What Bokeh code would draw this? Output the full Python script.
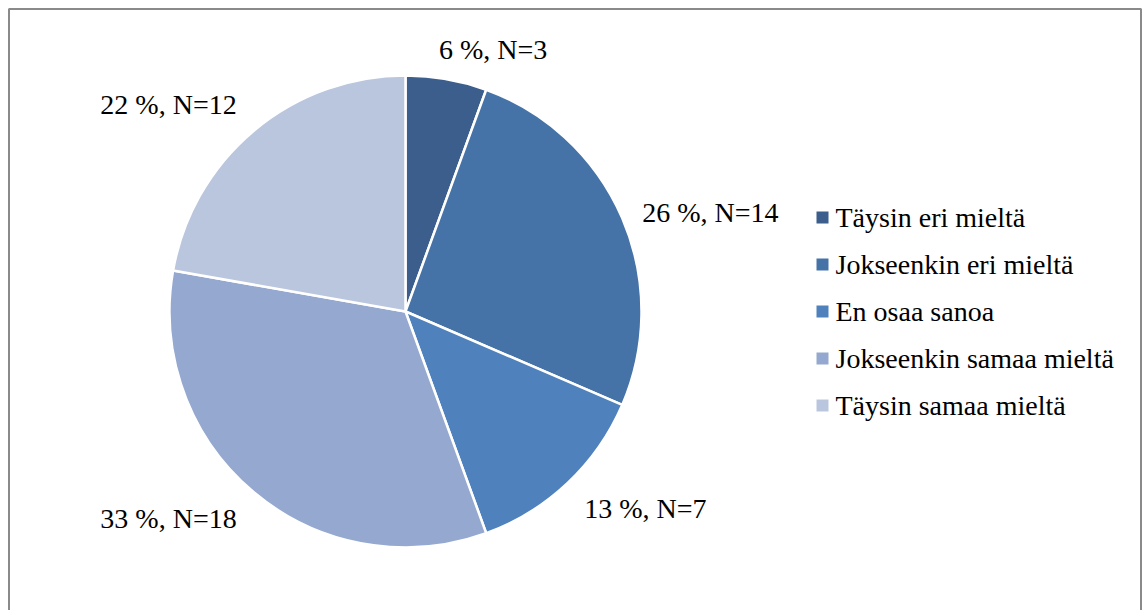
import math
from bokeh.plotting import figure
from bokeh.models import ColumnDataSource, Range1d
from bokeh.embed import file_html
from bokeh.resources import INLINE

categories = ["Täysin eri mieltä", "Jokseenkin eri mieltä", "En osaa sanoa",
              "Jokseenkin samaa mieltä", "Täysin samaa mieltä"]
counts = [3, 14, 7, 18, 12]
colors = ["#3B5E8C", "#4572A7", "#4F81BD", "#95A8CF", "#BAC6DE"]

W, H = 1142, 610
FONT = "Liberation Serif"
FS = "28px"

p = figure(width=W, height=H, output_backend="svg", toolbar_location=None,
           x_range=Range1d(0, W), y_range=Range1d(0, H), min_border=0)
p.axis.visible = False
p.grid.visible = False
p.outline_line_color = None
p.background_fill_color = "white"
p.border_fill_color = "white"

# chart frame
p.quad(left=[8.5], right=[1140.5], bottom=[-20], top=[H - 8.5],
       fill_color=None, line_color="#8a8a8a", line_width=2)

cx, cy, R = 405, H - 311, 236
total = sum(counts)
starts, ends, mids = [], [], []
acc = 0
for c in counts:
    a0 = math.pi / 2 - 2 * math.pi * acc / total
    acc += c
    a1 = math.pi / 2 - 2 * math.pi * acc / total
    starts.append(a0)
    ends.append(a1)
    mids.append((a0 + a1) / 2)

src = ColumnDataSource(dict(start=starts, end=ends, color=colors))
p.wedge(x=cx, y=cy, radius=R, start_angle="start", end_angle="end",
        direction="clock", fill_color="color", line_color="white",
        line_width=2.5, source=src)

# data labels
lx, ly, la, lb, lt = [], [], [], [], []
for c, m in zip(counts, mids):
    r = R * 1.06
    cs, sn = math.cos(m), math.sin(m)
    x = cx + r * cs
    y = cy + r * sn
    if abs(cs) > 0.3:
        x += 7 if cs > 0 else -8
    else:
        x -= 10
    lx.append(x)
    ly.append(y)
    la.append("left" if cs > 0 else "right")
    if abs(sn) < 0.5:
        lb.append("middle")
    else:
        lb.append("bottom" if sn > 0 else "top")
    lt.append(f"{round(100 * c / total)} %, N={c}")
p.text(x=lx, y=ly, text=lt, text_align=la, text_baseline=lb,
       text_font=FONT, text_font_size=FS, text_color="#000000")

# legend
ley = [H - (217 + i * 47) for i in range(len(categories))]
p.rect(x=[822] * len(categories), y=ley, width=12, height=12,
       fill_color=colors, line_color=None)
p.text(x=[835] * len(categories), y=ley, text=categories,
       text_align="left", text_baseline="middle",
       text_font=FONT, text_font_size=FS, text_color="#000000")

open("out.html", "w").write(file_html(p, INLINE))
